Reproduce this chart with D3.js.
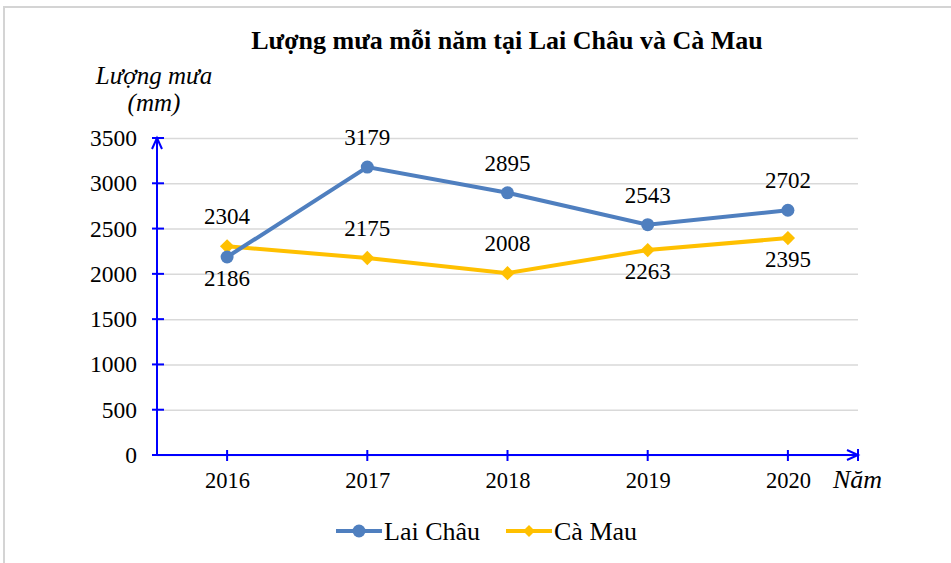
<!DOCTYPE html>
<html>
<head>
<meta charset="utf-8">
<script src="https://cdn.jsdelivr.net/npm/d3@7"></script>
<style>
  body { margin: 0; background: #fff; }
  svg { display: block; }
  text { font-family: "Liberation Serif", "Times New Roman", serif; }
</style>
</head>
<body>
<svg width="951" height="563"></svg>
<script>
// data
const years = ["2016", "2017", "2018", "2019", "2020"]
const laiChau = [2186, 3179, 2895, 2543, 2702]
const caMau = [2304, 2175, 2008, 2263, 2395]
const laiChauLabelPos = ["below", "above", "above", "above", "above"]
const caMauLabelPos = ["above", "above", "above", "below", "below"]
const yTicks = [0, 500, 1000, 1500, 2000, 2500, 3000, 3500]

const svg = d3.select("svg")
const axisColor = "#0000ff"
const serif = "Liberation Serif"

const plotLeft = 157, plotRight = 858, plotTop = 138, plotBottom = 455

const xScale = d3.scalePoint()
  .domain(years)
  .range([plotLeft, plotRight])
  .padding(0.5)

const yScale = d3.scaleLinear()
  .domain([0, 3500])
  .range([plotBottom, plotTop])

// frame
svg.append("rect")
  .attr("x", 4).attr("y", 7)
  .attr("width", 1000).attr("height", 700)
  .attr("fill", "none")
  .attr("stroke", "#d4d4d4")
  .attr("stroke-width", 2)

// title
svg.append("text")
  .attr("x", 507).attr("y", 49)
  .attr("text-anchor", "middle")
  .attr("font-family", serif)
  .attr("font-size", 26)
  .attr("font-weight", "bold")
  .text("Lượng mưa mỗi năm tại Lai Châu và Cà Mau")

// y axis title
svg.append("text")
  .attr("x", 154).attr("y", 84)
  .attr("text-anchor", "middle")
  .attr("font-family", serif)
  .attr("font-size", 25)
  .attr("font-style", "italic")
  .text("Lượng mưa")
svg.append("text")
  .attr("x", 154).attr("y", 111)
  .attr("text-anchor", "middle")
  .attr("font-family", serif)
  .attr("font-size", 25)
  .attr("font-style", "italic")
  .text("(mm)")

// gridlines
const grid = svg.append("g")
  .attr("transform", `translate(${plotLeft},0)`)
  .call(d3.axisLeft(yScale).tickValues(yTicks).tickSize(-(plotRight - plotLeft)).tickFormat(""))
grid.select(".domain").remove()
grid.selectAll("line").attr("stroke", "#d9d9d9").attr("stroke-width", 1.5)

// y tick labels
const yAxisG = svg.append("g")
  .attr("transform", `translate(${plotLeft},0)`)
  .call(d3.axisLeft(yScale).tickValues(yTicks).tickFormat(d3.format("d")).tickSize(0).tickPadding(20))
yAxisG.select(".domain").remove()
yAxisG.selectAll("text")
  .attr("font-family", serif)
  .attr("font-size", 23.5)
  .attr("fill", "#000")

// x tick labels
const xAxisG = svg.append("g")
  .attr("transform", `translate(0,${plotBottom})`)
  .call(d3.axisBottom(xScale).tickSize(0).tickPadding(17))
xAxisG.select(".domain").remove()
xAxisG.selectAll("text")
  .attr("font-family", serif)
  .attr("font-size", 22.5)
  .attr("fill", "#000")

svg.append("text")
  .attr("x", 833).attr("y", 488)
  .attr("font-family", serif)
  .attr("font-size", 26)
  .attr("font-style", "italic")
  .text("Năm")

// blue axes with arrows
const axes = svg.append("g")
  .attr("stroke", axisColor)
  .attr("stroke-width", 2)
  .attr("fill", "none")

axes.append("line")
  .attr("x1", plotLeft).attr("x2", plotLeft)
  .attr("y1", plotBottom).attr("y2", yScale(3500))
axes.append("path")
  .attr("d", `M${plotLeft - 5},${yScale(3500) + 11} L${plotLeft},${yScale(3500)} L${plotLeft + 5},${yScale(3500) + 11}`)
axes.selectAll(".ytick")
  .data(yTicks)
  .enter().append("line")
  .attr("x1", plotLeft - 5).attr("x2", plotLeft + 7)
  .attr("y1", d => yScale(d)).attr("y2", d => yScale(d))

axes.append("line")
  .attr("x1", plotLeft).attr("x2", plotRight)
  .attr("y1", plotBottom).attr("y2", plotBottom)
axes.append("path")
  .attr("d", `M${plotRight - 11},${plotBottom - 5} L${plotRight},${plotBottom} L${plotRight - 11},${plotBottom + 5}`)
axes.append("line")
  .attr("x1", plotRight).attr("x2", plotRight)
  .attr("y1", plotBottom - 6).attr("y2", plotBottom + 6)
axes.selectAll(".xtick")
  .data(years)
  .enter().append("line")
  .attr("x1", d => xScale(d)).attr("x2", d => xScale(d))
  .attr("y1", plotBottom - 5).attr("y2", plotBottom + 6)

const series = [
  { name: "Lai Châu", values: laiChau, pos: laiChauLabelPos, color: "#4f7fbf", marker: "circle" },
  { name: "Cà Mau", values: caMau, pos: caMauLabelPos, color: "#ffc000", marker: "diamond" }
]

const line = d3.line()
  .x((d, i) => xScale(years[i]))
  .y(d => yScale(d))

const diamond = d3.symbol().type(d3.symbolDiamond2).size(130)

// draw Cà Mau first, then Lai Châu so the blue is on top like the picture
series.slice().reverse().forEach(s => {
  const g = svg.append("g")
  g.append("path")
    .datum(s.values)
    .attr("fill", "none")
    .attr("stroke", s.color)
    .attr("stroke-width", 4)
    .attr("d", line)

  if (s.marker == "circle") {
    g.selectAll("circle")
      .data(s.values)
      .enter().append("circle")
      .attr("cx", (d, i) => xScale(years[i]))
      .attr("cy", d => yScale(d))
      .attr("r", 6.5)
      .attr("fill", s.color)
  } else {
    g.selectAll(".mk")
      .data(s.values)
      .enter().append("path")
      .attr("transform", (d, i) => `translate(${xScale(years[i])},${yScale(d)})`)
      .attr("d", diamond)
      .attr("fill", s.color)
  }
})

// data labels
series.forEach(s => {
  svg.append("g").selectAll("text")
    .data(s.values)
    .enter().append("text")
    .attr("x", (d, i) => xScale(years[i]))
    .attr("y", (d, i) => s.pos[i] == "above" ? yScale(d) - 22 : yScale(d) + 29)
    .attr("text-anchor", "middle")
    .attr("font-family", serif)
    .attr("font-size", 23)
    .attr("fill", "#000")
    .text(d => d)
})

// legend
const legend = svg.append("g")
const legendItems = [
  { name: "Lai Châu", x: 336, color: "#4f7fbf", marker: "circle" },
  { name: "Cà Mau", x: 506, color: "#ffc000", marker: "diamond" }
]
legendItems.forEach(it => {
  legend.append("line")
    .attr("x1", it.x).attr("x2", it.x + 46)
    .attr("y1", 531).attr("y2", 531)
    .attr("stroke", it.color)
    .attr("stroke-width", 4)
  if (it.marker == "circle") {
    legend.append("circle")
      .attr("cx", it.x + 23).attr("cy", 531).attr("r", 6.5)
      .attr("fill", it.color)
  } else {
    legend.append("path")
      .attr("transform", `translate(${it.x + 23},531)`)
      .attr("d", d3.symbol().type(d3.symbolDiamond2).size(90))
      .attr("fill", it.color)
  }
  legend.append("text")
    .attr("x", it.x + 48).attr("y", 540)
    .attr("font-family", serif)
    .attr("font-size", 26)
    .attr("fill", "#000")
    .text(it.name)
})
</script>
</body>
</html>
